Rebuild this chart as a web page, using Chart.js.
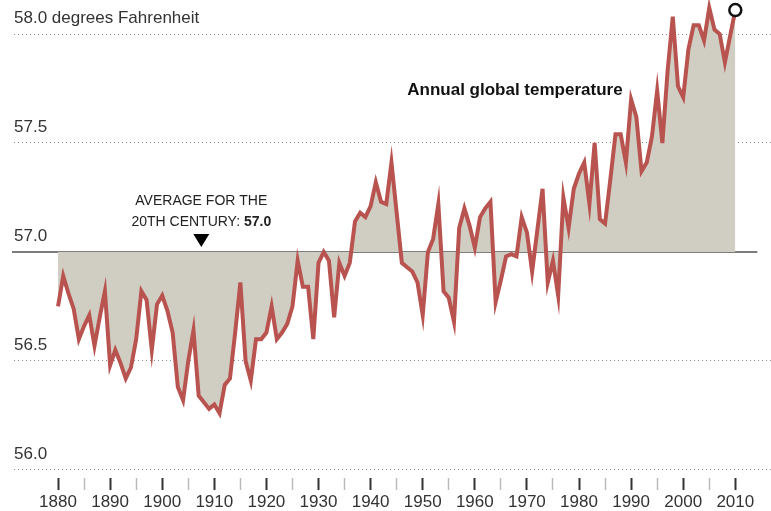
<!DOCTYPE html>
<html>
<head>
<meta charset="utf-8">
<script src="https://cdn.jsdelivr.net/npm/chart.js@4/dist/chart.umd.min.js"></script>
<style>
  html, body { margin: 0; padding: 0; background: #fff; }
  #wrap { width: 771px; height: 511px; position: relative; }
</style>
</head>
<body>
<div id="wrap"><canvas id="tempChart"></canvas></div>
<script>
// Annual global temperature, degrees F, 1880-2010
const firstYear = 1880;
const temps = [
  56.75, 56.89, 56.81, 56.74, 56.60, 56.66, 56.71, 56.57, 56.70, 56.82, // 1880s
  56.48, 56.55, 56.49, 56.42, 56.47, 56.60, 56.82, 56.78, 56.55, 56.76, // 1890s
  56.80, 56.73, 56.63, 56.38, 56.32, 56.50, 56.64, 56.34, 56.31, 56.28, // 1900s
  56.30, 56.26, 56.39, 56.42, 56.63, 56.86, 56.50, 56.41, 56.60, 56.60, // 1910s
  56.63, 56.75, 56.60, 56.63, 56.67, 56.75, 56.96, 56.84, 56.84, 56.60, // 1920s
  56.95, 57.00, 56.96, 56.70, 56.95, 56.89, 56.95, 57.14, 57.18, 57.16, // 1930s
  57.21, 57.32, 57.23, 57.22, 57.41, 57.18, 56.95, 56.93, 56.91, 56.86, // 1940s
  56.71, 57.00, 57.06, 57.22, 56.82, 56.79, 56.68, 57.11, 57.20, 57.12, // 1950s
  57.02, 57.16, 57.20, 57.23, 56.77, 56.87, 56.98, 56.99, 56.98, 57.16, // 1960s
  57.09, 56.91, 57.10, 57.29, 56.86, 56.96, 56.80, 57.25, 57.11, 57.29, // 1970s
  57.36, 57.41, 57.22, 57.50, 57.15, 57.13, 57.33, 57.54, 57.54, 57.41, // 1980s
  57.70, 57.62, 57.37, 57.41, 57.53, 57.74, 57.50, 57.83, 58.08, 57.76, // 1990s
  57.71, 57.93, 58.04, 58.04, 57.97, 58.12, 58.02, 58.00, 57.87, 57.99, // 2000s
  58.11                                                                 // 2010
];
const centuryAverage = 57.0;
const yTicks = [56.0, 56.5, 57.0, 57.5, 58.0];
const xLabelYears = [1880, 1890, 1900, 1910, 1920, 1930, 1940, 1950, 1960, 1970, 1980, 1990, 2000, 2010];

const points = temps.map((t, i) => ({ x: firstYear + i, y: t }));
const lastIdx = temps.length - 1;
const lastYear = firstYear + lastIdx;

const FONT = "'Liberation Sans', Arial, sans-serif";

// Average line, marker and text labels
const annotations = {
  id: 'annotations',
  beforeDatasetsDraw(chart) {
    const { ctx, chartArea, scales: { x, y } } = chart;
    const yAvg = y.getPixelForValue(centuryAverage);
    ctx.save();
    ctx.strokeStyle = '#7d7d7d';
    ctx.lineWidth = 2;
    ctx.beginPath();
    ctx.moveTo(chartArea.left - 2, yAvg);
    ctx.lineTo(x.getPixelForValue(lastYear) + 22, yAvg);
    ctx.stroke();
    ctx.restore();
  },
  afterDatasetsDraw(chart) {
    const { ctx, scales: { x, y } } = chart;
    const yAvg = y.getPixelForValue(centuryAverage);
    const mx = x.getPixelForValue(1907.5);
    ctx.save();
    // triangle marker
    ctx.fillStyle = '#000';
    ctx.beginPath();
    ctx.moveTo(mx - 8, yAvg - 18);
    ctx.lineTo(mx + 8, yAvg - 18);
    ctx.lineTo(mx, yAvg - 5);
    ctx.closePath();
    ctx.fill();

    ctx.fillStyle = '#222';
    ctx.textBaseline = 'middle';
    ctx.textAlign = 'center';
    ctx.font = '14px ' + FONT;
    ctx.fillText('AVERAGE FOR THE', mx, yAvg - 51);
    const part1 = '20TH CENTURY: ';
    const part2 = centuryAverage.toFixed(1);
    const w1 = ctx.measureText(part1).width;
    ctx.font = 'bold 14px ' + FONT;
    const w2 = ctx.measureText(part2).width;
    const sx = mx - (w1 + w2) / 2;
    ctx.textAlign = 'left';
    ctx.font = '14px ' + FONT;
    ctx.fillText(part1, sx, yAvg - 30);
    ctx.font = 'bold 14px ' + FONT;
    ctx.fillText(part2, sx + w1, yAvg - 30);

    ctx.textAlign = 'center';
    ctx.fillStyle = '#111';
    ctx.font = 'bold 17px ' + FONT;
    ctx.fillText('Annual global temperature', x.getPixelForValue(1967.7), y.getPixelForValue(57.74));
    ctx.restore();
  }
};

const ctx = document.getElementById('tempChart').getContext('2d');
new Chart(ctx, {
  type: 'line',
  data: {
    datasets: [{
      data: points,
      borderColor: '#b9534f',
      borderWidth: 4,
      backgroundColor: '#d0cec3',
      fill: { value: centuryAverage },
      tension: 0,
      pointRadius: c => c.dataIndex === lastIdx ? 6 : 0,
      pointBackgroundColor: '#fff',
      pointBorderColor: '#111',
      pointBorderWidth: 2.5,
      clip: false
    }]
  },
  plugins: [annotations],
  options: {
    responsive: true,
    maintainAspectRatio: false,
    animation: false,
    layout: { autoPadding: false, padding: { left: 14, right: 0, top: 0, bottom: 0 } },
    plugins: {
      legend: { display: false },
      tooltip: { enabled: false }
    },
    scales: {
      x: {
        type: 'linear',
        min: 1871.55,
        max: 2016.85,
        afterBuildTicks: axis => {
          const t = [];
          for (let yr = 1880; yr <= 2010; yr += 5) t.push({ value: yr });
          axis.ticks = t;
        },
        afterFit: axis => {
          axis.height = 33;
          axis.paddingLeft = 0;
          axis.paddingRight = 0;
        },
        grid: {
          drawOnChartArea: false,
          drawTicks: true,
          tickLength: 12,
          tickWidth: c => (c.tick && c.tick.value % 10 === 0) ? 2 : 1.5,
          tickColor: c => (c.tick && c.tick.value % 10 === 0) ? '#333' : '#bbb'
        },
        border: { display: false },
        ticks: {
          autoSkip: false,
          maxRotation: 0,
          padding: 2,
          color: '#333',
          font: { family: FONT, size: 17 },
          callback: v => xLabelYears.includes(v) ? String(v) : ''
        }
      },
      y: {
        min: 55.963,
        max: 58.156,
        afterBuildTicks: axis => { axis.ticks = yTicks.map(v => ({ value: v })); },
        afterFit: axis => {
          axis.width = 0;
          axis.paddingTop = 0;
          axis.paddingBottom = 0;
        },
        grid: {
          drawTicks: false,
          color: c => (c.tick && c.tick.value === centuryAverage) ? 'rgba(0,0,0,0)' : '#8a8a8a',
          lineWidth: 1
        },
        border: { display: false, dash: [1, 3] },
        ticks: {
          mirror: true,
          padding: 0,
          labelOffset: -16,
          color: '#333',
          font: { family: FONT, size: 17 },
          callback: v => v === 58 ? '58.0 degrees Fahrenheit' : v.toFixed(1)
        }
      }
    }
  }
});
</script>
</body>
</html>
